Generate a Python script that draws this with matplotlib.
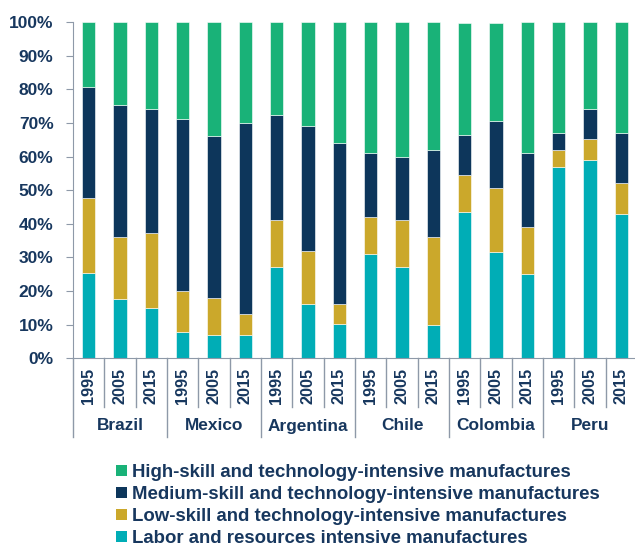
import numpy as np
import matplotlib
matplotlib.use("Agg")
import matplotlib.pyplot as plt
from matplotlib.patches import Patch
from matplotlib.transforms import blended_transform_factory

plt.rcParams['font.family'] = ['Liberation Sans', 'DejaVu Sans']
plt.rcParams['font.weight'] = 'bold'

countries = ["Brazil", "Mexico", "Argentina", "Chile", "Colombia", "Peru"]
years = ["1995", "2005", "2015"]

# shares (%) per bar, order: country x year
labor = [25.3, 17.5, 15.1, 7.9, 7.0, 7.0, 27.1, 16.1, 10.2,
         30.9, 27.0, 9.9, 43.5, 31.5, 25.0, 57.0, 59.1, 43.0]
low = [22.3, 18.7, 22.1, 12.1, 11.0, 6.1, 14.0, 15.9, 6.0,
       11.1, 14.0, 26.1, 11.0, 19.0, 13.9, 5.0, 6.0, 9.0]
medium = [33.2, 39.1, 36.9, 51.1, 48.1, 57.0, 31.1, 37.0, 47.9,
          19.0, 19.0, 26.0, 12.0, 20.2, 22.1, 5.1, 8.9, 15.1]
high = [19.2, 24.7, 25.9, 28.9, 33.9, 29.9, 27.8, 31.0, 35.9,
        39.0, 40.0, 38.0, 33.1, 28.9, 39.0, 32.9, 26.0, 32.9]

labels = ["High-skill and technology-intensive manufactures",
          "Medium-skill and technology-intensive manufactures",
          "Low-skill and technology-intensive manufactures",
          "Labor and resources intensive manufactures"]
colors = ["#19B278", "#0D365B", "#CBA82B", "#00ADB6"]
txt = "#17375E"
linec = "#8E99A8"

fig = plt.figure(figsize=(6.35, 5.46), dpi=100)
ax = fig.add_axes([73 / 635, 1 - 358.3 / 546, 564 / 635, 336.3 / 546])

x = np.arange(len(labor))
w = 0.42
bottom = np.zeros(len(x))
for vals, c in zip([labor, low, medium, high], colors[::-1]):
    ax.bar(x, vals, w, bottom=bottom, color=c, edgecolor='white', linewidth=0.4)
    bottom += np.array(vals)

ax.set_xlim(-0.5, len(x) - 0.5)
ax.set_ylim(0, 100)
ax.set_yticks(range(0, 101, 10))
ax.set_yticklabels([f"{v}%" for v in range(0, 101, 10)], fontsize=12.5,
                   color=txt, fontweight='bold')
ax.tick_params(axis='y', length=5, color=linec, pad=9)
ax.set_xticks([])
for s in ['top', 'right']:
    ax.spines[s].set_visible(False)
ax.spines['left'].set_color(linec)
ax.spines['bottom'].set_color(linec)

# separators under the axis: short ones between years, long ones between countries
tr = blended_transform_factory(ax.transData, ax.transAxes)
h = 336.3
for k in range(len(x) + 1):
    pos = k - 0.5
    depth = 79 / h if k % 3 == 0 else 48.5 / h
    ax.plot([pos, pos], [0, -depth], transform=tr, color=linec,
            lw=1.0, clip_on=False)

for i in x:
    ax.text(i, -28 / h, years[i % 3], transform=tr, rotation=90,
            ha='center', va='center', fontsize=11.7, color=txt, fontweight='bold')
for j, c in enumerate(countries):
    ax.text(3 * j + 1, -67.7 / h, c, transform=tr, ha='center', va='center',
            fontsize=12.4, color=txt, fontweight='bold')

handles = [Patch(facecolor=c, edgecolor='none') for c in colors]
leg = fig.legend(handles, labels, loc='upper left',
                 bbox_to_anchor=(107 / 635, 1 - 455 / 546), frameon=False,
                 fontsize=13.4, handlelength=0.55, handleheight=0.55,
                 handletextpad=0.3, labelspacing=0.26, borderpad=0)
for t in leg.get_texts():
    t.set_color(txt)
    t.set_fontweight('bold')

fig.savefig("out.png", dpi=100)
